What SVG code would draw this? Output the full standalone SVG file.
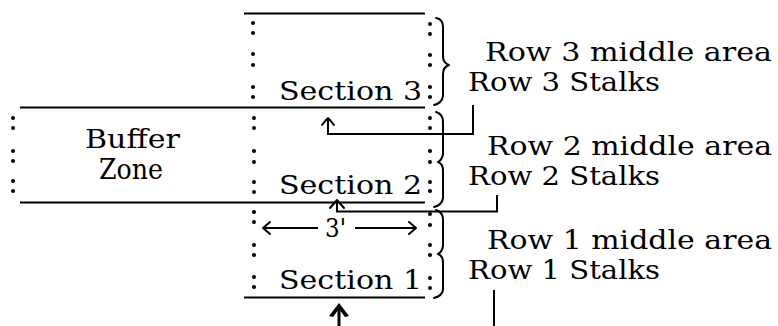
<svg xmlns="http://www.w3.org/2000/svg" width="778" height="326" viewBox="0 0 778 326">
<defs>
<style>
.t{font-family:"DejaVu Serif","Liberation Serif",serif;font-size:26px;fill:#000}
.ln{stroke:#000;stroke-width:2;fill:none}
.br{stroke:#000;stroke-width:2;fill:none;stroke-linecap:round;stroke-linejoin:round}
.d{fill:#000}
</style>
</defs>
<rect width="778" height="326" fill="#fff"/>

<g id="section3">
<line class="ln" x1="244" y1="13.5" x2="425" y2="13.5"/>
<g class="d">
<circle cx="253" cy="23" r="2"/><circle cx="253" cy="33" r="2"/>
<circle cx="253" cy="54" r="2"/><circle cx="253" cy="65" r="2"/>
<circle cx="253" cy="87" r="2"/><circle cx="253" cy="97" r="2"/>
<circle cx="430" cy="24" r="2"/><circle cx="430" cy="34" r="2"/>
<circle cx="430" cy="55" r="2"/><circle cx="430" cy="65" r="2"/>
<circle cx="430" cy="87" r="2"/><circle cx="430" cy="97" r="2"/>
</g>
<text class="t" x="279" y="100" textLength="143" lengthAdjust="spacingAndGlyphs">Section 3</text>
</g>

<g id="buffer-zone">
<line class="ln" x1="20" y1="107.5" x2="425" y2="107.5"/>
<line class="ln" x1="20" y1="202.5" x2="425" y2="202.5"/>
<g class="d">
<circle cx="13" cy="118" r="2"/><circle cx="13" cy="128" r="2"/>
<circle cx="13" cy="151" r="2"/><circle cx="13" cy="161" r="2"/>
<circle cx="13" cy="181" r="2"/><circle cx="13" cy="191" r="2"/>
</g>
<text class="t" x="85" y="148" textLength="95" lengthAdjust="spacingAndGlyphs">Buffer</text>
<text class="t" x="99" y="179" textLength="64" lengthAdjust="spacingAndGlyphs" style="font-size:28px">Zone</text>
</g>

<g id="section2">
<g class="d">
<circle cx="254" cy="118" r="2"/><circle cx="254" cy="128" r="2"/>
<circle cx="254" cy="151" r="2"/><circle cx="254" cy="162" r="2"/>
<circle cx="254" cy="182" r="2"/><circle cx="254" cy="192" r="2"/>
<circle cx="430" cy="118" r="2"/><circle cx="430" cy="128" r="2"/>
<circle cx="430" cy="151" r="2"/><circle cx="430" cy="162" r="2"/>
<circle cx="430" cy="182" r="2"/><circle cx="430" cy="191" r="2"/>
</g>
<text class="t" x="279" y="194" textLength="143" lengthAdjust="spacingAndGlyphs">Section 2</text>
</g>

<g id="section1">
<line class="ln" x1="244" y1="297.5" x2="425" y2="297.5"/>
<g class="d">
<circle cx="254" cy="212" r="2"/><circle cx="254" cy="222" r="2"/>
<circle cx="254" cy="245" r="2"/><circle cx="254" cy="255" r="2"/>
<circle cx="254" cy="277" r="2"/><circle cx="254" cy="287" r="2"/>
<circle cx="430" cy="214" r="2"/><circle cx="430" cy="225" r="2"/>
<circle cx="430" cy="245" r="2"/><circle cx="430" cy="255" r="2"/>
<circle cx="430" cy="278" r="2"/><circle cx="430" cy="288" r="2"/>
</g>
<text class="t" x="279" y="289" textLength="143" lengthAdjust="spacingAndGlyphs">Section 1</text>
</g>

<g id="width-dimension">
<line class="ln" x1="263" y1="228" x2="318" y2="228"/>
<polyline class="br" points="270,222 263,228 270,234"/>
<text class="t" x="325" y="237" textLength="21" lengthAdjust="spacingAndGlyphs">3'</text>
<line class="ln" x1="355" y1="228" x2="416" y2="228"/>
<polyline class="br" points="409,222 416,228 409,234"/>
</g>

<g id="row3-label">
<path class="br" d="M436,18 Q443,19 443,27 L443,56 Q443,63 449,65 Q443,67 443,74 L443,96 Q442,103 434,105"/>
<text class="t" x="485" y="61" textLength="287" lengthAdjust="spacingAndGlyphs">Row 3  middle area</text>
<text class="t" x="468" y="91" textLength="192" lengthAdjust="spacingAndGlyphs">Row 3 Stalks</text>
</g>

<g id="row2-label">
<path class="br" d="M436,112 Q443,114 443,122 L443,154 Q442,160 438,162 Q443,164 443,170 L443,198 Q442,205 434,207"/>
<text class="t" x="487" y="155" textLength="285" lengthAdjust="spacingAndGlyphs">Row 2  middle area</text>
<text class="t" x="468" y="185" textLength="192" lengthAdjust="spacingAndGlyphs">Row 2 Stalks</text>
</g>

<g id="row1-label">
<path class="br" d="M436,210 Q443,212 443,220 L443,246 Q442,252 438,254 Q443,256 443,262 L443,290 Q442,296 434,298"/>
<text class="t" x="487" y="249" textLength="285" lengthAdjust="spacingAndGlyphs">Row 1  middle area</text>
<text class="t" x="468" y="279" textLength="192" lengthAdjust="spacingAndGlyphs">Row 1 Stalks</text>
</g>

<g id="connectors">
<polyline class="ln" points="473,105 473,134 328,134 328,119"/>
<path class="br" d="M322,125 Q326,120 328,118 Q330,120 334,125"/>
<polyline class="ln" points="497,195 497,211.5 337,211.5 337,201"/>
<path class="br" d="M330,208 L337,200 L344,208"/>
<line class="ln" x1="494" y1="290" x2="494" y2="326"/>
<line x1="339" y1="306" x2="339" y2="326" stroke="#000" stroke-width="3"/>
<path d="M329,316 L339,303 L349,316 L345,317 L339,309 L333,317 Z" fill="#000"/>
</g>
</svg>
